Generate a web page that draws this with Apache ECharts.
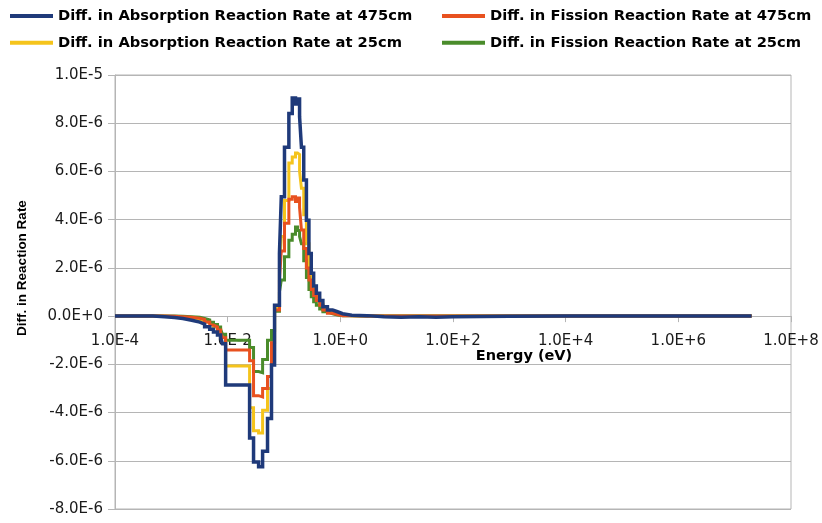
<!DOCTYPE html>
<html>
<head>
<meta charset="utf-8">
<script src="https://cdn.jsdelivr.net/npm/echarts@6/dist/echarts.min.js"></script>
<style>
  html, body { margin: 0; padding: 0; background: #fff; }
  #chart { width: 822px; height: 523px; }
</style>
</head>
<body>
<div id="chart"></div>
<script>
// Group boundaries of the energy mesh (eV)
const energyEdges = [1e-4, 4.7e-4, 7.6e-4, 1.14e-3, 1.6e-3, 2.3e-3, 3.2e-3, 3.9e-3, 4.8e-3, 5.6e-3,
  6.6e-3, 7.5e-3, 8.1e-3, 9.2e-3, 2.45e-2, 2.88e-2, 3.54e-2, 4.17e-2, 5.1e-2, 6.0e-2,
  6.8e-2, 8.3e-2, 8.95e-2, 0.102, 0.122, 0.140, 0.160, 0.174, 0.189, 0.204,
  0.224, 0.25, 0.277, 0.305, 0.336, 0.375, 0.43, 0.49, 0.59, 0.73,
  0.89, 1.1, 1.6, 3, 6, 12, 25, 50, 100, 1e3, 1e4, 1e5, 1e6, 1e7, 2e7];

// Group-wise differences, in units of 1e-6
const absorption475 = [0, -0.03, -0.06, -0.1, -0.17, -0.25, -0.33, -0.44, -0.55, -0.66,
  -0.78, -0.9, -1.15, -2.86, -5.06, -6.05, -6.25, -5.6, -4.25, -2.03,
  0.45, 2.6, 4.95, 7.0, 8.4, 9.05, 8.8, 9.0, 8.27, 7.0,
  5.64, 3.98, 2.6, 1.78, 1.25, 0.95, 0.65, 0.39, 0.25, 0.18,
  0.1, 0.04, 0.02, -0.03, -0.05, -0.03, -0.05, -0.03, -0.01, 0, 0, 0, 0, 0];
const fission475 = [0, 0, -0.01, -0.03, -0.05, -0.09, -0.14, -0.24, -0.37, -0.45,
  -0.58, -0.7, -0.9, -1.41, -1.85, -3.3, -3.35, -3.0, -2.5, -1.1,
  0.25, 1.5, 2.7, 3.85, 4.85, 4.95, 4.75, 4.9, 4.5, 3.57,
  2.8, 2.0, 1.5, 1.1, 0.85, 0.65, 0.45, 0.25, 0.12, 0.06,
  0.02, 0.01, 0, 0, 0, 0, 0, 0, 0, 0, 0, 0, 0, 0];
const absorption25 = [0, -0.01, -0.03, -0.06, -0.1, -0.15, -0.2, -0.28, -0.36, -0.45,
  -0.55, -0.65, -0.85, -2.07, -3.8, -4.75, -4.85, -3.9, -3.0, -1.4,
  0.35, 1.9, 3.3, 4.8, 6.35, 6.6, 6.76, 6.7, 6.0, 5.3,
  4.2, 3.0, 2.0, 1.4, 1.0, 0.75, 0.5, 0.3, 0.2, 0.12,
  0.06, 0.02, 0, 0, 0, 0, 0, 0, 0, 0, 0, 0, 0, 0];
const fission25 = [0, 0, 0, -0.01, -0.03, -0.05, -0.1, -0.16, -0.25, -0.35,
  -0.45, -0.55, -0.75, -1.0, -1.3, -2.3, -2.35, -1.8, -1.0, -0.6,
  0.2, 1.0, 1.5, 2.46, 3.15, 3.4, 3.7, 3.55, 3.3, 3.0,
  2.3, 1.6, 1.1, 0.8, 0.6, 0.45, 0.3, 0.18, 0.1, 0.05,
  0.02, 0.01, 0, 0, 0, 0, 0, 0, 0, 0, 0, 0, 0, 0];

const UNIT = 1e-6;
const Y_MIN = -8e-6, Y_MAX = 1e-5, Y_STEP = 2e-6;
const seriesNames = [
  'Diff. in Absorption Reaction Rate at 475cm',
  'Diff. in Fission Reaction Rate at 475cm',
  'Diff. in Absorption Reaction Rate at 25cm',
  'Diff. in Fission Reaction Rate at 25cm'
];
const seriesColors = ['#1f3a7a', '#e8511f', '#f5c41c', '#4a8c2b'];

// Step points on a log10(E) scale: each group holds its value until the next edge
function histogram(values) {
  const pts = values.map((v, i) => [Math.log10(energyEdges[i]), v * UNIT]);
  pts.push([Math.log10(energyEdges[energyEdges.length - 1]), values[values.length - 1] * UNIT]);
  return pts;
}

function sciLabel(v) {
  if (Math.abs(v) < 1e-15) return '0.0E+0';
  const e = Math.floor(Math.log10(Math.abs(v)) + 1e-9);
  const m = v / Math.pow(10, e);
  return m.toFixed(1) + 'E' + (e < 0 ? '-' : '+') + Math.abs(e);
}
function energyLabel(p) {
  const n = Math.round(p);
  return '1.0E' + (n < 0 ? '-' : '+') + Math.abs(n);
}

const GRID = { left: 115, right: 31, top: 75, bottom: 14 };
const CHART_H = 523;
// Energy axis sits on the zero line of the rate axis
const plotH = CHART_H - GRID.top - GRID.bottom;
const zeroFromBottom = plotH * (0 - Y_MIN) / (Y_MAX - Y_MIN);

const gridColor = '#b5b5b5';
const tickFont = { fontFamily: 'DejaVu Sans', fontSize: 15, color: '#1a1a1a' };
const legendText = { fontFamily: 'DejaVu Sans', fontWeight: 'bold', fontSize: 14.7, color: '#000', lineHeight: 16 };

function lineSeries(name, values, color, width, z) {
  return {
    name: name,
    type: 'line',
    step: 'end',
    showSymbol: false,
    data: histogram(values),
    z: z,
    itemStyle: { color: color },
    lineStyle: { color: color, width: width, join: 'miter' }
  };
}

const chart = echarts.init(document.getElementById('chart'), null, { renderer: 'canvas' });
chart.setOption({
  animation: false,
  backgroundColor: '#fff',
  grid: Object.assign({
    show: true, borderColor: gridColor, borderWidth: 1,
    outerBoundsMode: 'none'
  }, GRID),
  legend: [
    {
      data: [seriesNames[0], seriesNames[2]],
      orient: 'vertical', left: 10, top: 8, padding: 0,
      icon: 'rect', itemWidth: 43, itemHeight: 4, itemGap: 10.7,
      textStyle: legendText, selectedMode: false
    },
    {
      data: [seriesNames[1], seriesNames[3]],
      orient: 'vertical', left: 442, top: 8, padding: 0,
      icon: 'rect', itemWidth: 43, itemHeight: 4, itemGap: 10.7,
      textStyle: legendText, selectedMode: false
    }
  ],
  xAxis: {
    type: 'value',
    position: 'bottom',
    offset: -zeroFromBottom,
    min: -4, max: 8, interval: 2,
    axisLine: { show: true, onZero: false, lineStyle: { color: gridColor, width: 1 } },
    axisTick: { show: true, length: 6, lineStyle: { color: gridColor } },
    axisLabel: Object.assign({ show: true, margin: 17, formatter: energyLabel, showMinLabel: true, showMaxLabel: true, hideOverlap: false }, tickFont),
    splitLine: { show: false }
  },
  yAxis: {
    type: 'value',
    min: Y_MIN, max: Y_MAX, interval: Y_STEP,
    axisLine: { show: true, onZero: false, lineStyle: { color: gridColor, width: 1 } },
    axisTick: { show: true, length: 7, lineStyle: { color: gridColor } },
    axisLabel: Object.assign({ margin: 12, formatter: sciLabel }, tickFont),
    splitLine: { show: true, lineStyle: { color: gridColor, width: 1 } }
  },
  graphic: [
    {
      type: 'text', x: 22, y: 268, rotation: Math.PI / 2,
      style: {
        text: 'Diff. in Reaction Rate', fill: '#000',
        font: 'bold 13.5px "Liberation Sans", Arial, sans-serif',
        align: 'center', verticalAlign: 'middle'
      }
    },
    {
      type: 'text', x: 524, y: 356,
      style: {
        text: 'Energy (eV)', fill: '#000',
        font: 'bold 14.5px "DejaVu Sans", sans-serif',
        align: 'center', verticalAlign: 'middle'
      }
    }
  ],
  series: [
    lineSeries(seriesNames[2], absorption25, seriesColors[2], 3, 2),
    lineSeries(seriesNames[3], fission25, seriesColors[3], 3, 3),
    lineSeries(seriesNames[1], fission475, seriesColors[1], 3, 4),
    lineSeries(seriesNames[0], absorption475, seriesColors[0], 3.5, 5)
  ]
});
</script>
</body>
</html>
